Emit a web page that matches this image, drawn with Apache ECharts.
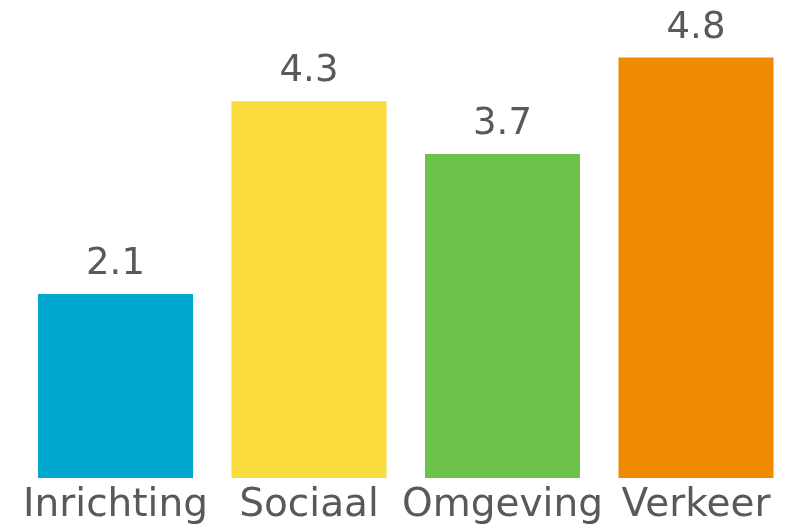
<!DOCTYPE html>
<html>
<head>
<meta charset="utf-8">
<script src="https://cdn.jsdelivr.net/npm/echarts@6/dist/echarts.min.js"></script>
<style>
  html, body { margin: 0; padding: 0; background: #fff; }
  #chart { width: 786px; height: 529px; }
</style>
</head>
<body>
<div id="chart"></div>
<script>
var categories = ['Inrichting', 'Sociaal', 'Omgeving', 'Verkeer'];
var values = [2.1, 4.3, 3.7, 4.8];
var colors = ['#00a8cf', '#f9dc3c', '#6cc24a', '#f08a00'];

var chart = echarts.init(document.getElementById('chart'));

var data = [];
for (var i = 0; i < values.length; i++) {
  data.push({ value: values[i], itemStyle: { color: colors[i] } });
}

// category centres sit on the grid edges (boundaryGap off), bars keep a fixed width
var option = {
  animation: false,
  grid: { left: 115.5, right: 90, top: 40, bottom: 51 },
  xAxis: {
    type: 'category',
    data: categories,
    boundaryGap: false,
    axisLine: { show: false },
    axisTick: { show: false },
    splitLine: { show: false },
    axisLabel: {
      color: '#595959',
      fontFamily: 'DejaVu Sans',
      fontSize: 39,
      margin: 8,
      interval: 0
    }
  },
  yAxis: {
    type: 'value',
    min: 0,
    max: 5,
    show: false
  },
  series: [{
    type: 'bar',
    data: data,
    barWidth: 155,
    label: {
      show: true,
      position: 'top',
      distance: 11,
      color: '#595959',
      fontFamily: 'DejaVu Sans',
      fontSize: 37,
      formatter: function (p) { return p.value.toFixed(1); }
    }
  }]
};

chart.setOption(option);
</script>
</body>
</html>
